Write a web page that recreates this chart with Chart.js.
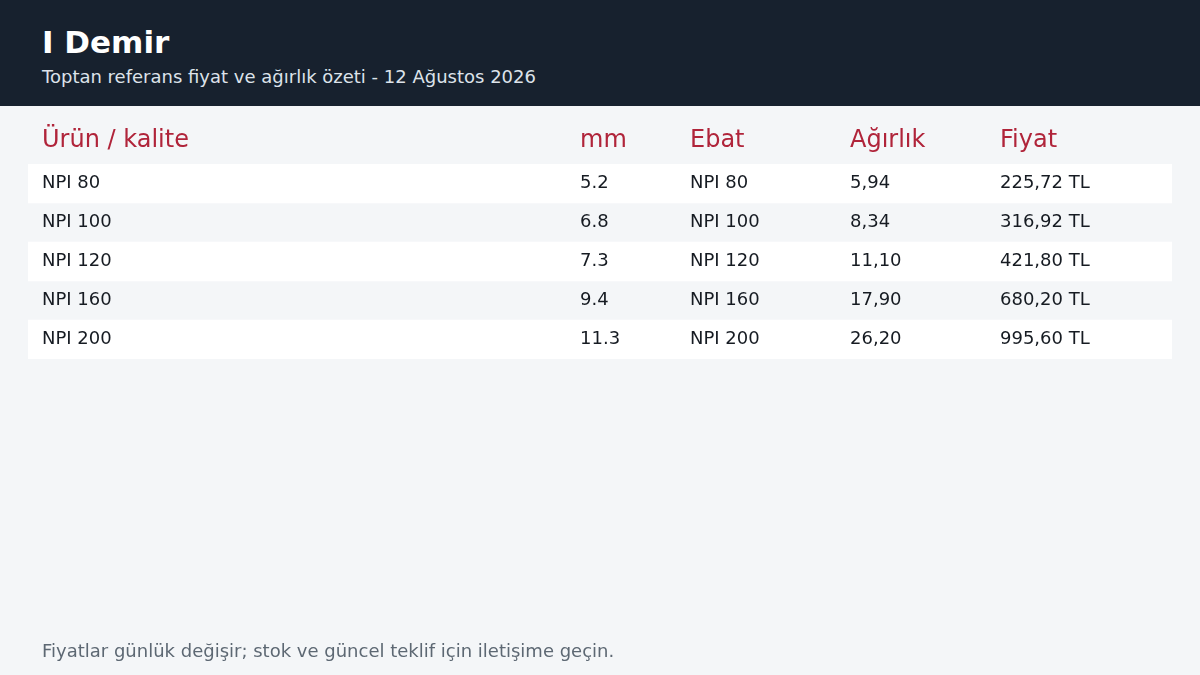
<!DOCTYPE html>
<html lang="tr">
<head>
<meta charset="utf-8">
<script src="https://cdn.jsdelivr.net/npm/chart.js@4"></script>
<style>
  body { margin: 0; width: 1200px; height: 675px; background: #f4f6f8; font-family: "DejaVu Sans", sans-serif; position: relative; overflow: hidden; }
  .header { position: absolute; left: 0; top: 0; width: 1200px; height: 106px; background: #17212e; }
  .header h1 { position: absolute; left: 42px; top: 24px; margin: 0; font-size: 31px; color: #fff; font-weight: bold; }
  .header p { position: absolute; left: 42px; top: 66px; margin: 0; font-size: 18px; color: #dde3ea; }
  .foot { position: absolute; left: 42px; top: 640px; font-size: 18px; color: #5d6873; }
  canvas { position: absolute; left: 0; top: 0; }
</style>
</head>
<body>
<div class="header">
  <h1>I Demir</h1>
  <p>Toptan referans fiyat ve ağırlık özeti - 12 Ağustos 2026</p>
</div>
<canvas id="tbl" width="1200" height="675"></canvas>
<div class="foot">Fiyatlar günlük değişir; stok ve güncel teklif için iletişime geçin.</div>
<script>
const columns = ["Ürün / kalite", "mm", "Ebat", "Ağırlık", "Fiyat"];
const products = ["NPI 80", "NPI 100", "NPI 120", "NPI 160", "NPI 200"];
const mm = ["5.2", "6.8", "7.3", "9.4", "11.3"];
const sizes = ["NPI 80", "NPI 100", "NPI 120", "NPI 160", "NPI 200"];
const weights = ["5,94", "8,34", "11,10", "17,90", "26,20"];
const prices = ["225,72 TL", "316,92 TL", "421,80 TL", "680,20 TL", "995,60 TL"];

const colX = [42, 580, 690, 850, 1000];

const cellText = {
    id: "cellText",
    afterDatasetsDraw(chart) {
        const ctx = chart.ctx;
        const y = chart.scales.y;
        const rows = [products, mm, sizes, weights, prices];
        ctx.save();
        ctx.textBaseline = "middle";
        ctx.font = "24px 'DejaVu Sans'";
        ctx.fillStyle = "#b0243a";
        columns.forEach((c, i) => ctx.fillText(c, colX[i], 141));
        ctx.font = "18px 'DejaVu Sans'";
        ctx.fillStyle = "#161b22";
        products.forEach((p, r) => {
            const py = y.getPixelForValue(r);
            rows.forEach((col, i) => ctx.fillText(col[r], colX[i], py));
        });
        ctx.restore();
    }
};

new Chart(document.getElementById("tbl"), {
    type: "bar",
    data: {
        labels: products,
        datasets: [{
            data: products.map(() => 1),
            backgroundColor: products.map((p, i) => i % 2 === 0 ? "#ffffff" : "rgba(0,0,0,0)"),
            barPercentage: 1,
            categoryPercentage: 1
        }]
    },
    options: {
        indexAxis: "y",
        responsive: false,
        animation: false,
        layout: { padding: { top: 164, bottom: 316, left: 28, right: 28 } },
        plugins: { legend: { display: false }, tooltip: { enabled: false } },
        scales: {
            x: { display: false, min: 0, max: 1 },
            y: { display: false }
        }
    },
    plugins: [cellText]
});
</script>
</body>
</html>
